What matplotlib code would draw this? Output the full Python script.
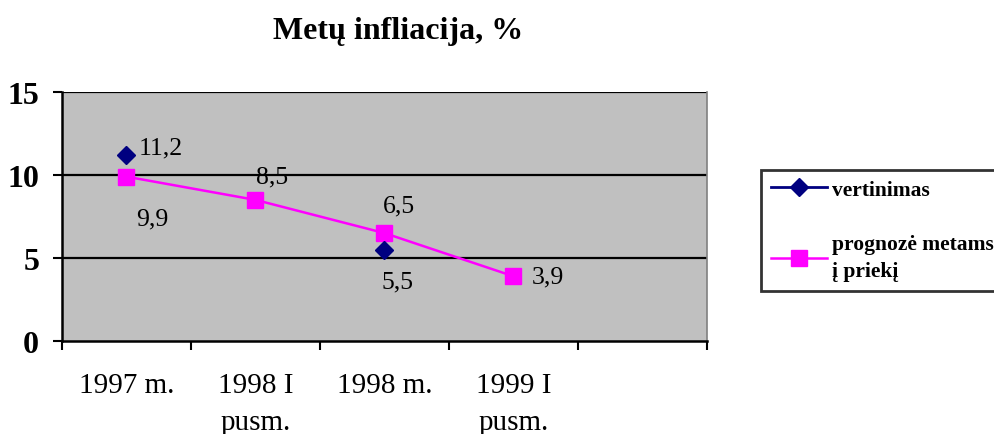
import numpy as np
import matplotlib
matplotlib.use("Agg")
import matplotlib.pyplot as plt

categories = ["1997 m.", "1998 I\npusm.", "1998 m.", "1999 I\npusm.", ""]
vertinimas = [11.2, np.nan, 5.5, np.nan, np.nan]
prognoze = [9.9, 8.5, 6.5, 3.9, np.nan]
series_names = ["vertinimas", "prognozė metams\nį priekį"]
title = "Metų infliacija, %"
y_ticks = [0, 5, 10, 15]

# label offsets in pixels (dx, dy) for each labelled point
vert_offsets = [(12, 8, "left"), None, (13, -32, "center"), None, None]
prog_offsets = [(26, -42, "center"), (17, 23, "center"), (14, 28, "center"), (18, 0, "left"), None]

plt.rcParams['font.family'] = ['Liberation Serif', 'DejaVu Serif']

fig = plt.figure(figsize=(9.95, 4.35), dpi=100)
ax = fig.add_axes([62 / 995, 1 - 342 / 435, 645 / 995, 249 / 435])
ax.set_facecolor("#C0C0C0")

x = np.arange(len(categories))
l1, = ax.plot(x, vertinimas, color="#000080", marker="D", markersize=9, lw=2, zorder=4,
              label=series_names[0])
l2, = ax.plot(x, prognoze, color="#FF00FF", marker="s", markersize=11.5, lw=1.8, zorder=3,
              label=series_names[1])

px = 72 / 100
for vals, offs in ((vertinimas, vert_offsets), (prognoze, prog_offsets)):
    for xi, v, o in zip(x, vals, offs):
        if o is None or np.isnan(v):
            continue
        ax.annotate(f"{v:.1f}".replace(".", ","), (xi, v), xytext=(o[0] * px, o[1] * px),
                    textcoords="offset points", ha=o[2], va="center", fontsize=18.5, zorder=5)

ax.set_xlim(-0.5, len(categories) - 0.5)
ax.set_ylim(0, 15)
ax.set_yticks(y_ticks)
ax.set_yticklabels([str(t) for t in y_ticks], fontsize=23, fontweight="bold")
for t in y_ticks[1:]:
    ax.axhline(t, color="black", lw=1.6, zorder=2)

ax.set_xticks(np.arange(len(categories) + 1) - 0.5)
ax.set_xticklabels([])
ax.set_xticks(x, minor=True)
ax.set_xticklabels(categories, minor=True, fontsize=21, linespacing=1.55)
ax.tick_params(axis="x", which="major", direction="out", length=6.5, width=1.5)
ax.tick_params(axis="x", which="minor", length=0, pad=22)
ax.tick_params(axis="y", direction="out", length=6.5, width=1.5, pad=10)

ax.spines["top"].set_visible(False)
ax.spines["right"].set_color("#808080")
ax.spines["right"].set_linewidth(1.2)
ax.spines["left"].set_linewidth(1.8)
ax.spines["bottom"].set_linewidth(1.8)

fig.text(398 / 995, 1 - 32 / 435, title, ha="center", va="center", fontsize=23, fontweight="bold")

leg = fig.legend(handles=[l1, l2], loc="upper left", bbox_to_anchor=(761 / 995, 1 - 171 / 435),
                 prop={"weight": "bold", "size": 15.5}, frameon=True, fancybox=False,
                 edgecolor="black", handlelength=2.6, labelspacing=1.6, borderpad=0.45,
                 handletextpad=0.25, borderaxespad=0)
leg.get_frame().set_linewidth(2)
for t in leg.get_texts():
    t.set_linespacing(1.45)

fig.savefig("out.png", dpi=100)
